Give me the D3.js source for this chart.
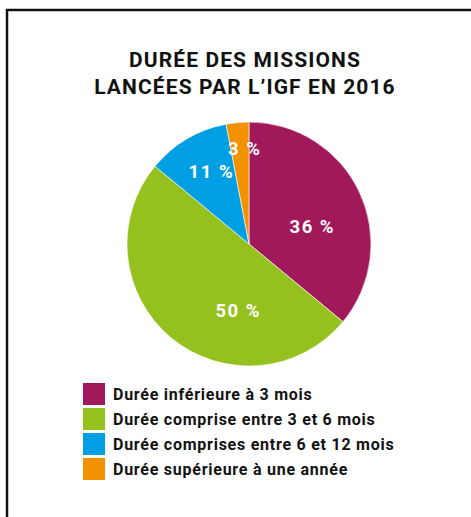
<!DOCTYPE html>
<html>
<head>
<meta charset="utf-8">
<script src="https://cdn.jsdelivr.net/npm/d3@7"></script>
<style>
  html, body { margin: 0; padding: 0; background: #fff; }
  svg { display: block; font-family: Roboto, "Liberation Sans", sans-serif; }
</style>
</head>
<body>
<div id="chart"></div>
<script>
// Durée des missions lancées par l'IGF en 2016
const titleLines = ["DURÉE DES MISSIONS", "LANCÉES PAR L\u2019IGF EN 2016"];
const categories = [
  "Durée inférieure à 3 mois",
  "Durée comprise entre 3 et 6 mois",
  "Durée comprises entre 6 et 12 mois",
  "Durée supérieure à une année"
];
const shares = [36, 50, 11, 3];
const pctLabels = ["36 %", "50 %", "11 %", "3 %"];
const colors = ["#a2195b", "#95c11f", "#009fe3", "#f39200"];

const width = 471;
const height = 517;

const svg = d3.select("#chart")
  .append("svg")
  .attr("width", width)
  .attr("height", height);

// frame (top and left rules only)
svg.append("path")
  .attr("d", `M7,${height} V10 H${width}`)
  .attr("fill", "none")
  .attr("stroke", "#111")
  .attr("stroke-width", 2.5);

// title
svg.append("g")
  .selectAll("text")
  .data(titleLines)
  .join("text")
  .attr("x", 245)
  .attr("y", (d, i) => 67 + i * 27)
  .attr("text-anchor", "middle")
  .attr("font-size", 21)
  .attr("font-weight", 700)
  .attr("letter-spacing", 1.1)
  .attr("fill", "#111")
  .text(d => d);

// pie
const cx = 249, cy = 244, radius = 122;
const pie = d3.pie().sort(null).value(d => d);
const arcs = pie(shares);
const arc = d3.arc().innerRadius(0).outerRadius(radius);

const g = svg.append("g").attr("transform", `translate(${cx},${cy})`);

g.selectAll("path")
  .data(arcs)
  .join("path")
  .attr("d", arc)
  .attr("fill", (d, i) => colors[i])
  .attr("stroke", "#fff")
  .attr("stroke-width", 0.6);

// labels sit where the original put them (angle in degrees, distance)
const labelPlace = [[74, 65], [190, 67], [332, 82], [357, 96]];
g.selectAll("text")
  .data(arcs)
  .join("text")
  .attr("transform", (d, i) => {
    const a = labelPlace[i][0] * Math.PI / 180;
    const r = labelPlace[i][1];
    return `translate(${r * Math.sin(a) + 0.8},${-r * Math.cos(a)})`;
  })
  .attr("dy", "0.36em")
  .attr("text-anchor", "middle")
  .attr("font-size", 18.5)
  .attr("font-weight", 700)
  .attr("letter-spacing", 1.5)
  .attr("fill", "#fff")
  .text((d, i) => pctLabels[i]);

// legend
const legend = svg.append("g").attr("transform", "translate(83,383)");
const rows = legend.selectAll("g")
  .data(categories)
  .join("g")
  .attr("transform", (d, i) => `translate(0,${i * 25})`);

rows.append("rect")
  .attr("width", 22)
  .attr("height", 22)
  .attr("fill", (d, i) => colors[i]);

rows.append("text")
  .attr("x", 30)
  .attr("y", 17)
  .attr("font-size", 16)
  .attr("font-weight", 700)
  .attr("letter-spacing", 0.75)
  .attr("fill", "#111")
  .text(d => d);
</script>
</body>
</html>
